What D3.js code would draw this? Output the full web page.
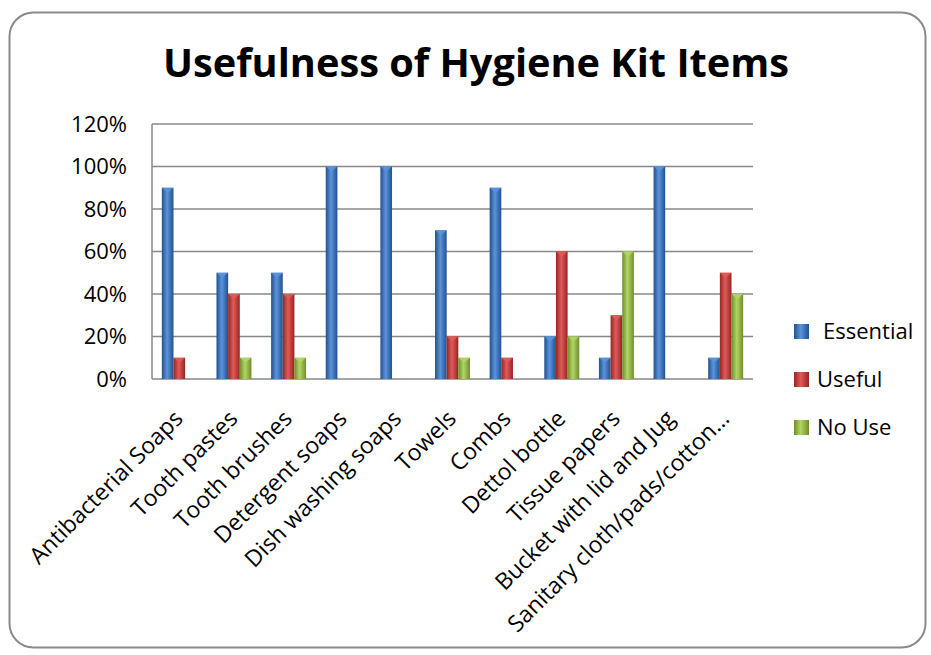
<!DOCTYPE html>
<html>
<head>
<meta charset="utf-8">
<script src="https://cdn.jsdelivr.net/npm/d3@7"></script>
<style>
  body { margin: 0; background: #fff; }
  svg text { font-family: "Open Sans", sans-serif; fill: #000; }
</style>
</head>
<body>
<svg id="chart" width="931" height="655"></svg>
<script>
// chart data
let categories = ["Antibacterial Soaps", "Tooth pastes", "Tooth brushes", "Detergent soaps",
  "Dish washing soaps", "Towels", "Combs", "Dettol bottle", "Tissue papers",
  "Bucket with lid and Jug", "Sanitary cloth/pads/cotton\u2026"];
let seriesNames = ["Essential", "Useful", "No Use"];
let essential = [0.9, 0.5, 0.5, 1.0, 1.0, 0.7, 0.9, 0.2, 0.1, 1.0, 0.1];
let useful = [0.1, 0.4, 0.4, 0, 0, 0.2, 0.1, 0.6, 0.3, 0, 0.5];
let noUse = [0, 0.1, 0.1, 0, 0, 0.1, 0, 0.2, 0.6, 0, 0.4];
let yTicks = [0, 0.2, 0.4, 0.6, 0.8, 1.0, 1.2];

let colors = {
  "Essential": ["#21518f", "#5b93dc"],
  "Useful": ["#962523", "#e05a58"],
  "No Use": ["#6f8f27", "#b3d466"]
};

let svg = d3.select("#chart");

// outer frame
svg.append("rect")
  .attr("x", 9.5).attr("y", 12.5)
  .attr("width", 916).attr("height", 635)
  .attr("rx", 24)
  .attr("fill", "#fff")
  .attr("stroke", "#8a8a8a")
  .attr("stroke-width", 2);

// title
svg.append("text")
  .attr("x", 476).attr("y", 77)
  .attr("text-anchor", "middle")
  .attr("font-size", 39)
  .attr("font-weight", "bold")
  .attr("textLength", 626)
  .attr("lengthAdjust", "spacingAndGlyphs")
  .text("Usefulness of Hygiene Kit Items");

// scales
let x0 = d3.scaleBand()
  .domain(categories)
  .range([152, 753]);

let x1 = d3.scaleBand()
  .domain(seriesNames)
  .range([x0.bandwidth() * 0.18, x0.bandwidth() * 0.82]);

let y = d3.scaleLinear()
  .domain([0, 1.2])
  .range([379, 124]);

// gradients for the bevelled bars
let defs = svg.append("defs");
seriesNames.forEach(function(s, i) {
  let g = defs.append("linearGradient")
    .attr("id", "grad" + i)
    .attr("x1", "0%").attr("x2", "100%")
    .attr("y1", "0%").attr("y2", "0%");
  g.append("stop").attr("offset", "0%").attr("stop-color", colors[s][0]);
  g.append("stop").attr("offset", "45%").attr("stop-color", colors[s][1]);
  g.append("stop").attr("offset", "100%").attr("stop-color", colors[s][0]);
});

// gridlines
svg.append("g")
  .selectAll("line")
  .data(yTicks)
  .enter()
  .append("line")
  .attr("x1", 152).attr("x2", 753)
  .attr("y1", function(d) { return y(d); })
  .attr("y2", function(d) { return y(d); })
  .attr("stroke", "#888")
  .attr("stroke-width", 1.5);

// left axis line
svg.append("line")
  .attr("x1", 152).attr("x2", 152)
  .attr("y1", y(1.2)).attr("y2", y(0))
  .attr("stroke", "#888")
  .attr("stroke-width", 1.5);

// y tick labels
svg.append("g")
  .selectAll("text")
  .data(yTicks)
  .enter()
  .append("text")
  .attr("x", 127)
  .attr("y", function(d) { return y(d); })
  .attr("dy", "0.36em")
  .attr("text-anchor", "end")
  .attr("font-size", 22)
  .text(function(d) { return d3.format(".0%")(d); });

// bars
let rows = categories.map(function(c, i) {
  return { cat: c, values: [essential[i], useful[i], noUse[i]] };
});

let groups = svg.append("g")
  .selectAll("g")
  .data(rows)
  .enter()
  .append("g")
  .attr("transform", function(d) { return "translate(" + x0(d.cat) + ",0)"; });

let bars = groups.selectAll("g")
  .data(function(d) {
    return d.values.map(function(v, i) { return { s: seriesNames[i], i: i, v: v }; })
      .filter(function(e) { return e.v > 0; });
  })
  .enter()
  .append("g");

bars.append("rect")
  .attr("x", function(d) { return x1(d.s); })
  .attr("y", function(d) { return y(d.v); })
  .attr("width", x1.bandwidth())
  .attr("height", function(d) { return y(0) - y(d.v); })
  .attr("fill", function(d) { return "url(#grad" + d.i + ")"; });

// small bevel cap at top of each bar
bars.append("path")
  .attr("d", function(d) {
    let bx = x1(d.s), bw = x1.bandwidth(), by = y(d.v);
    return "M" + bx + "," + by + "L" + (bx + bw) + "," + by +
      "L" + (bx + bw / 2) + "," + (by + 5) + "Z";
  })
  .attr("fill", function(d) { return colors[d.s][1]; })
  .attr("opacity", 0.9);

// category labels
svg.append("g")
  .selectAll("text")
  .data(categories)
  .enter()
  .append("text")
  .attr("text-anchor", "end")
  .attr("font-size", 23)
  .attr("transform", function(d) {
    let cx = x0(d) + x0.bandwidth() / 2 + 5;
    return "translate(" + cx + ",420) rotate(-45)";
  })
  .text(function(d) { return d; });

// legend
let legend = svg.append("g")
  .selectAll("g")
  .data(seriesNames)
  .enter()
  .append("g")
  .attr("transform", function(d, i) { return "translate(794," + (331 + i * 48) + ")"; });

legend.append("rect")
  .attr("x", 0).attr("y", -7)
  .attr("width", 15).attr("height", 15)
  .attr("fill", function(d, i) { return "url(#grad" + i + ")"; });

legend.append("text")
  .attr("x", function(d, i) { return i === 0 ? 29 : 23; })
  .attr("dy", "0.36em")
  .attr("font-size", 22)
  .text(function(d) { return d; });
</script>
</body>
</html>
